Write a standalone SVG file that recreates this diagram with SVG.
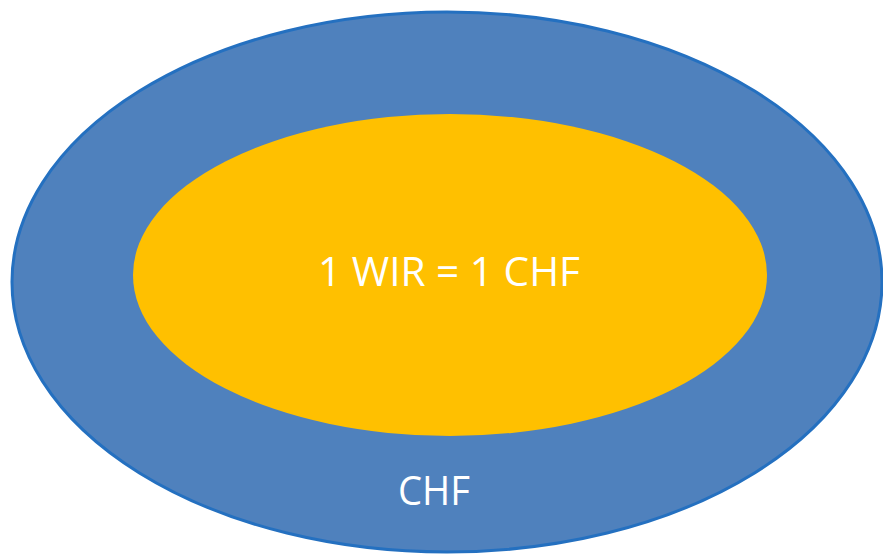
<svg xmlns="http://www.w3.org/2000/svg" width="883" height="556" viewBox="0 0 883 556">
<style>
.lbl{font-family:"Open Sans","Liberation Sans",sans-serif;fill:#ffffff;font-size:41px;text-anchor:middle}
</style>
<rect width="883" height="556" fill="#ffffff"/>
<g id="outer">
<ellipse cx="447" cy="282" rx="435" ry="270" fill="#4f81bd" stroke="#2470c0" stroke-width="3"/>
<text class="lbl" x="434" y="505" textLength="72" lengthAdjust="spacingAndGlyphs">CHF</text>
</g>
<g id="inner">
<ellipse cx="450" cy="275" rx="317" ry="161" fill="#ffc000"/>
<text class="lbl" x="449" y="286" textLength="262" lengthAdjust="spacingAndGlyphs">1 WIR = 1 CHF</text>
</g>
<g id="connectors"/>
</svg>
